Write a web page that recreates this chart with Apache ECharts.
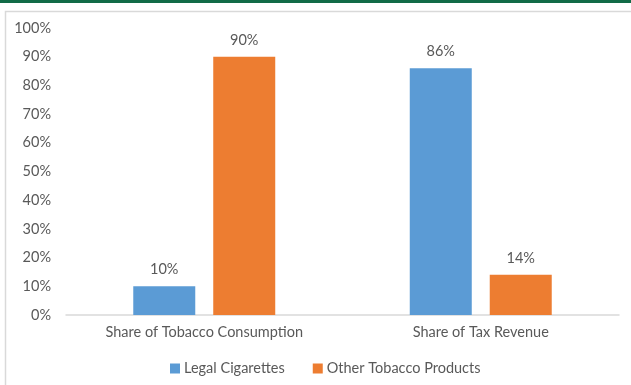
<!DOCTYPE html>
<html>
<head>
<meta charset="utf-8">
<script src="https://cdn.jsdelivr.net/npm/echarts@6/dist/echarts.min.js"></script>
<style>
  html, body { margin: 0; padding: 0; background: #fff; }
  #chart { width: 631px; height: 385px; }
</style>
</head>
<body>
<div id="chart"></div>
<script>
// Category labels along the x axis
const categories = ['Share of Tobacco Consumption', 'Share of Tax Revenue'];
// Shares in percent
const legalCigarettes = [10, 86];
const otherTobacco = [90, 14];
const seriesNames = ['Legal Cigarettes', 'Other Tobacco Products'];

const FONT = 'Lato, "Open Sans", sans-serif';
const TEXT = '#595959';
const SIZE = 14.5;

const chart = echarts.init(document.getElementById('chart'), null, { renderer: 'canvas' });

chart.setOption({
  animation: false,
  backgroundColor: '#ffffff',
  textStyle: { fontFamily: FONT, color: TEXT },
  graphic: [
    // dark green rule across the top
    { type: 'rect', left: 0, top: 0, shape: { width: 631, height: 3 }, style: { fill: '#126b47' }, silent: true },
    // light frame around the chart area
    { type: 'rect', left: 3, top: 9, shape: { width: 640, height: 400 }, style: { fill: 'none', stroke: '#d9d9d9', lineWidth: 1.5 }, silent: true }
  ],
  grid: { left: 66, right: 12, top: 28, bottom: 70 },
  legend: {
    data: seriesNames,
    bottom: 4,
    left: 165,
    itemWidth: 10,
    itemHeight: 10,
    itemGap: 28,
    icon: 'rect',
    textStyle: { fontFamily: FONT, fontSize: SIZE, color: TEXT, padding: [0, 0, 0, -1] }
  },
  xAxis: {
    type: 'category',
    data: categories,
    axisLine: { lineStyle: { color: '#d9d9d9', width: 1.5 } },
    axisTick: { show: false },
    axisLabel: { fontFamily: FONT, fontSize: SIZE, color: TEXT, margin: 10 }
  },
  yAxis: {
    type: 'value',
    min: 0,
    max: 100,
    interval: 10,
    axisLine: { show: false },
    axisTick: { show: false },
    splitLine: { show: false },
    axisLabel: { fontFamily: FONT, fontSize: SIZE, color: TEXT, margin: 15, formatter: '{value}%' }
  },
  series: [
    {
      name: seriesNames[0],
      type: 'bar',
      data: legalCigarettes,
      barWidth: 62,
      barGap: '29%',
      itemStyle: { color: '#5b9bd5' },
      label: { show: true, position: 'top', distance: 9, formatter: '{c}%', fontFamily: FONT, fontSize: SIZE, color: TEXT }
    },
    {
      name: seriesNames[1],
      type: 'bar',
      data: otherTobacco,
      barWidth: 62,
      itemStyle: { color: '#ed7d31' },
      label: { show: true, position: 'top', distance: 9, formatter: '{c}%', fontFamily: FONT, fontSize: SIZE, color: TEXT }
    }
  ]
});
</script>
</body>
</html>
